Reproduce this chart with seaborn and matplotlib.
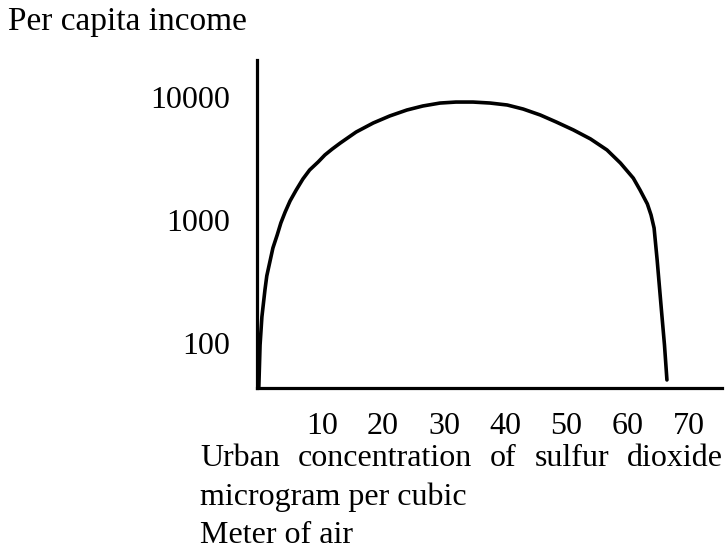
import matplotlib
matplotlib.use("Agg")
import matplotlib.pyplot as plt
from matplotlib.ticker import NullLocator, NullFormatter
import seaborn as sns

# curve: SO2 concentration vs per capita income (log axis)
so2 = [-0.3, -0.1, 0.2, 0.7, 1.0, 1.5, 2.0, 2.7, 3.3, 4.0, 4.8, 5.8, 6.9, 8.0,
       9.4, 10.5, 11.7, 13.0, 15.6, 18.4, 21.1, 23.9, 26.5, 29.3, 31.9, 34.7,
       37.5, 40.3, 42.9, 45.7, 48.3, 51.1, 53.9, 56.6, 58.8, 60.9, 62.0, 63.2,
       63.8, 64.3, 64.8, 65.5, 66.0, 66.4]
income = [44, 96, 163, 270, 351, 456, 592, 755, 946, 1160, 1427, 1750, 2154, 2550,
          2965, 3380, 3777, 4220, 5190, 6150, 7015, 7840, 8453, 8930, 9099, 9100,
          8933, 8610, 7984, 7140, 6266, 5400, 4563, 3710, 2904, 2190, 1754, 1350,
          1099, 860, 473, 185, 96, 50]

x_ticks = [10, 20, 30, 40, 50, 60, 70]
y_ticks = [100, 1000, 10000]
y_tick_labels = ["100", "1000", "10000"]

y_title = "Per capita income"
x_title_words = ["Urban", "concentration", "of", "sulfur", "dioxide"]
x_title_rest = ["microgram per cubic", "Meter of air"]

sns.set_style("white")
plt.rcParams["font.family"] = ["Liberation Serif", "DejaVu Serif"]
plt.rcParams["text.color"] = "black"

W, H = 727, 551
fig = plt.figure(figsize=(W / 100, H / 100), dpi=100)
ax = fig.add_axes([257 / W, 163 / H, 465 / W, 328 / H])

sns.lineplot(x=so2, y=income, ax=ax, color="black", linewidth=2.6, sort=False)
ax.lines[0].set_solid_joinstyle("round")
ax.lines[0].set_solid_capstyle("round")

ax.set_yscale("log")
ax.set_xlim(-0.6, 75.4)
ax.set_ylim(43, 20000)

ax.set_xticks(x_ticks)
ax.set_xticklabels([str(t) for t in x_ticks])
ax.set_yticks(y_ticks)
ax.set_yticklabels(y_tick_labels)
ax.yaxis.set_minor_locator(NullLocator())
ax.yaxis.set_minor_formatter(NullFormatter())
ax.tick_params(axis="both", length=0, labelsize=23, colors="black")
ax.tick_params(axis="x", pad=17)
ax.tick_params(axis="y", pad=19.5)
ax.set_xlabel("")
ax.set_ylabel("")

sns.despine(ax=ax)
for side in ["left", "bottom"]:
    ax.spines[side].set_linewidth(2.3)
    ax.spines[side].set_color("black")

# axis titles placed like the original typesetting
fig.text(8 / W, 1 - 30 / H, y_title, fontsize=24, color="black",
         va="baseline", ha="left")

# first line of the x title is justified between two edges
left_px, right_px = 200, 723
renderer = fig.canvas.get_renderer()
texts = [fig.text(0, 1 - 466 / H, w, fontsize=23, color="black",
                  va="baseline", ha="left")
         for w in x_title_words]
widths = [t.get_window_extent(renderer).width for t in texts]
gap = (right_px - left_px - sum(widths)) / (len(texts) - 1)
pos = left_px
for t, w in zip(texts, widths):
    t.set_x(pos / W)
    pos += w + gap

for line, base in zip(x_title_rest, [505, 543]):
    fig.text(left_px / W, 1 - base / H, line, fontsize=23, color="black",
             va="baseline", ha="left")

fig.savefig("out.png", dpi=100)
